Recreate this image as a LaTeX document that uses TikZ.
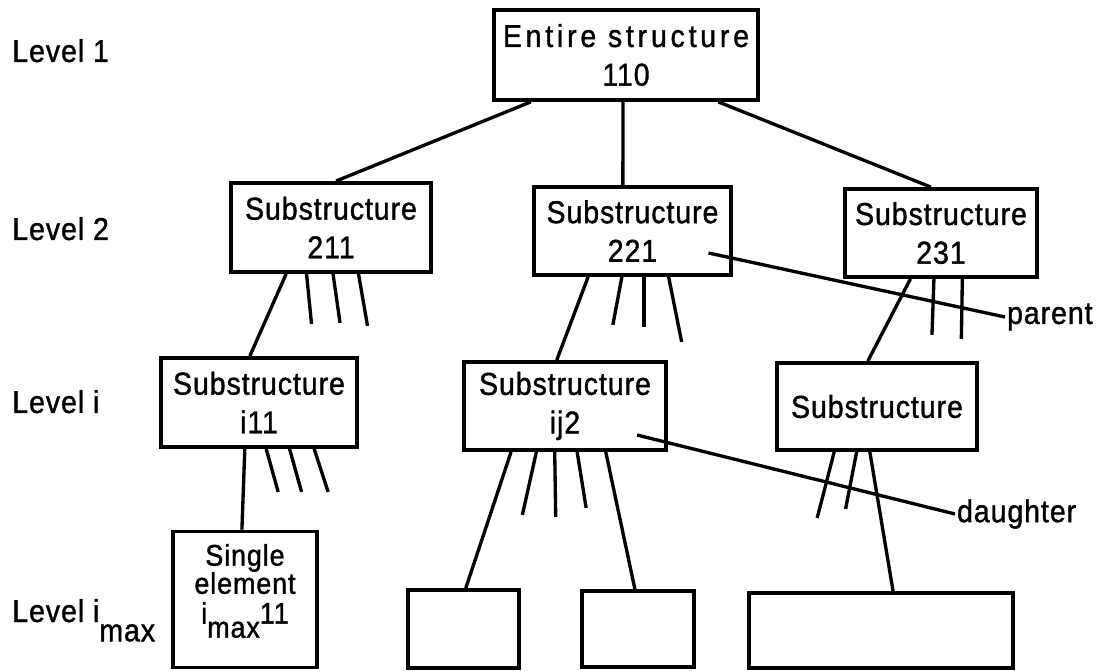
\documentclass[tikz,border=0pt]{standalone}
\usepackage{fontspec}
\setmainfont{Liberation Sans}[FakeStretch=0.9, FakeBold=1.2, LetterSpace=3]
\usetikzlibrary{calc}

\newcommand{\tightlines}{\lineskiplimit=-20pt\relax}

\tikzset{
  box/.style={draw, line width=2.2pt, inner sep=0pt, align=center,
    font=\fontsize{18}{22}\selectfont},
  link/.style={line width=1.9pt},
  lvl/.style={anchor=base west, inner sep=0pt, font=\fontsize{18}{20}\selectfont},
  tag/.style={anchor=west, inner sep=1pt, font=\fontsize{18}{20}\selectfont}
}

\begin{document}
\begin{tikzpicture}[x=0.2mm,y=-0.2mm]
    \useasboundingbox (0,0) rectangle (1098,671);
    % level labels
    \node[lvl] (L1) at (12,62) {Level 1};
    \node[lvl] (L2) at (12,240) {Level 2};
    \node[lvl] (Li) at (12,413) {Level i};
    \node[lvl] (Lmax) at (12,622) {Level i\raisebox{-11pt}{max}};
    % boxes
    \node[box, minimum width=52.8mm, minimum height=18mm] (top) at (626,55)
        {{\addfontfeature{LetterSpace=12}Entire structure}\\110};
    \node[box, minimum width=40mm, minimum height=17.8mm] (s211) at (331,227.5) {Substructure\\211};
    \node[box, minimum width=39.4mm, minimum height=17.6mm] (s221) at (632.5,231) {Substructure\\221};
    \node[box, minimum width=38.4mm, minimum height=17.6mm] (s231) at (941,233) {Substructure\\231};
    \node[box, minimum width=39.2mm, minimum height=17.8mm] (si11) at (259,402.5) {Substructure\\i11};
    \node[box, minimum width=40.4mm, minimum height=17.6mm] (sij2) at (565,406) {Substructure\\ij2};
    \node[box, minimum width=40mm, minimum height=17.4mm] (sR) at (877,406.5) {Substructure};
    \node[box, minimum width=28.8mm, minimum height=27.2mm] (single) at (245,599.5) {};
    \node[align=center, inner sep=0pt, font={\fontsize{17}{16}\selectfont\tightlines}]
        (singlelbl) at (245,591) {Single\\element\\[1pt]i\raisebox{-8pt}{max}11};
    \node[box, minimum width=22.2mm, minimum height=15.6mm] (bA) at (463.5,629) {};
    \node[box, minimum width=22.4mm, minimum height=15.2mm] (bB) at (638,629) {};
    \node[box, minimum width=52.8mm, minimum height=15mm] (bC) at (881,630.5) {};
    % tree links
    \draw[link] ($(top.south west)!.144!(top.south east)$) -- ($(s211.north west)!.525!(s211.north east)$);
    \draw[link] ($(top.south west)!.489!(top.south east)$) -- ($(s221.north west)!.452!(s221.north east)$);
    \draw[link] ($(top.south west)!.845!(top.south east)$) -- ($(s231.north west)!.448!(s231.north east)$);
    \draw[link] ($(s211.south west)!.28!(s211.south east)$) -- ($(si11.north west)!.454!(si11.north east)$);
    \draw[link] ($(s221.south west)!.279!(s221.south east)$) -- ($(sij2.north west)!.46!(sij2.north east)$);
    \draw[link] ($(s231.south west)!.344!(s231.south east)$) -- ($(sR.north west)!.455!(sR.north east)$);
    \draw[link] ($(si11.south west)!.429!(si11.south east)$) -- ($(single.north west)!.479!(single.north east)$);
    \draw[link] ($(sij2.south west)!.238!(sij2.south east)$) -- ($(bA.north west)!.52!(bA.north east)$);
    \draw[link] ($(sij2.south west)!.698!(sij2.south east)$) -- ($(bB.north west)!.473!(bB.north east)$);
    \draw[link] ($(sR.south west)!.465!(sR.south east)$) -- ($(bC.north west)!.545!(bC.north east)$);
    % stubs
    \foreach \f/\dx/\dy in {.38/5/50, .51/7/49, .635/9/52}
        \draw[link] ($(s211.south west)!\f!(s211.south east)$) -- ++(\dx,\dy);
    \foreach \f/\dx/\dy in {.447/-9/48, .558/0/50, .68/13/65}
        \draw[link] ($(s221.south west)!\f!(s221.south east)$) -- ++(\dx,\dy);
    \foreach \f/\dx/\dy in {.464/-2/56, .609/-1/60}
        \draw[link] ($(s231.south west)!\f!(s231.south east)$) -- ++(\dx,\dy);
    \foreach \f/\dx/\dy in {.536/12/43, .653/12/43, .776/14/43}
        \draw[link] ($(si11.south west)!\f!(si11.south east)$) -- ++(\dx,\dy);
    \foreach \f/\dx/\dy in {.361/-14/63, .45/1/65, .559/9/56}
        \draw[link] ($(sij2.south west)!\f!(sij2.south east)$) -- ++(\dx,\dy);
    \foreach \f/\dx/\dy in {.29/-17/66, .4/-11/57}
        \draw[link] ($(sR.south west)!\f!(sR.south east)$) -- ++(\dx,\dy);
    % pointers
    \node[tag] (parent) at (1005,317) {parent};
    \node[tag] (daughter) at (955,514) {daughter};
    \draw[link] ($(s221.center)+(76,22)$) -- (parent.west);
    \draw[link] ($(sij2.center)+(72,29)$) -- (daughter.west);
\end{tikzpicture}
\end{document}
